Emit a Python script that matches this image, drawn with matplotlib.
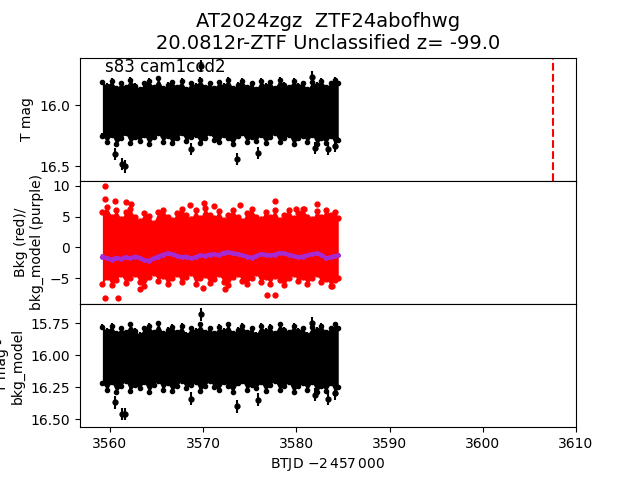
import numpy as np
import matplotlib
matplotlib.use('Agg')
import matplotlib.pyplot as plt

# light curve read off the reference: band edges sampled every ~0.5 d,
# plus the points that stick out of the band

t_env = [3559.2, 3559.7, 3560.2, 3560.7, 3561.2, 3561.7, 3562.2, 3562.7, 3563.2, 3563.7,
         3564.2, 3564.7, 3565.2, 3565.7, 3566.2, 3566.7, 3567.2, 3567.7, 3568.2, 3568.7,
         3569.2, 3569.7, 3570.2, 3570.7, 3571.2, 3571.7, 3572.2, 3572.7, 3573.2, 3573.7,
         3574.2, 3574.7, 3575.2, 3575.7, 3576.2, 3576.7, 3577.2, 3577.7, 3578.2, 3578.7,
         3579.2, 3579.7, 3580.2, 3580.7, 3581.2, 3581.7, 3582.2, 3582.7, 3583.2, 3583.7,
         3584.2, 3584.5]

# T mag band (top panel)
tmag_hi = [15.81, 15.84, 15.80, 15.86, 15.82, 15.85, 15.79, 15.84, 15.87, 15.82,
           15.80, 15.85, 15.78, 15.86, 15.83, 15.81, 15.85, 15.80, 15.87, 15.82,
           15.84, 15.79, 15.85, 15.82, 15.86, 15.81, 15.84, 15.79, 15.86, 15.83,
           15.80, 15.85, 15.82, 15.87, 15.80, 15.84, 15.81, 15.86, 15.79, 15.83,
           15.85, 15.80, 15.84, 15.82, 15.87, 15.81, 15.83, 15.80, 15.85, 15.82,
           15.79, 15.82]
tmag_lo = [16.25, 16.30, 16.24, 16.32, 16.27, 16.23, 16.31, 16.26, 16.29, 16.24,
           16.32, 16.26, 16.23, 16.30, 16.25, 16.31, 16.27, 16.23, 16.29, 16.26,
           16.24, 16.31, 16.27, 16.23, 16.28, 16.30, 16.24, 16.27, 16.32, 16.25,
           16.23, 16.30, 16.26, 16.29, 16.24, 16.31, 16.26, 16.23, 16.30, 16.27,
           16.24, 16.32, 16.27, 16.25, 16.30, 16.24, 16.32, 16.27, 16.31, 16.25,
           16.33, 16.28]

# background band and model (middle panel)
bkg_hi = [5.8, 6.5, 5.0, 6.0, 4.6, 5.7, 6.2, 4.9, 4.2, 5.5, 5.1, 4.0, 5.8, 6.1, 5.0,
          4.4, 5.6, 6.3, 5.2, 4.6, 6.0, 4.7, 6.4, 5.3, 4.8, 5.9, 4.5, 5.2, 6.1, 4.9,
          4.3, 5.6, 6.2, 5.0, 4.6, 5.8, 4.9, 6.0, 4.5, 5.3, 6.1, 4.8, 5.6, 6.3, 5.0,
          4.6, 5.9, 4.9, 6.1, 5.2, 5.7, 4.8]
bkg_lo = [-6.0, -4.8, -6.1, -5.3, -4.4, -5.8, -4.9, -4.3, -5.6, -6.2, -4.8, -4.2, -5.4,
          -4.6, -6.0, -5.0, -4.3, -5.7, -4.8, -4.1, -5.9, -5.0, -4.5, -5.8, -5.1, -4.4,
          -5.6, -6.1, -4.8, -4.3, -5.4, -6.0, -4.9, -4.2, -5.7, -4.8, -5.9, -4.6, -5.3,
          -6.1, -5.0, -4.3, -5.5, -4.8, -6.0, -4.9, -4.4, -5.7, -5.1, -6.2, -5.3, -5.0]
bkg_model = [-1.5, -1.8, -2.0, -1.7, -1.9, -1.6, -1.8, -1.5, -1.7, -2.1, -2.2, -1.8, -1.5,
             -1.2, -1.0, -1.1, -1.4, -1.6, -1.5, -1.8, -1.6, -1.3, -1.4, -1.2, -1.1, -1.3,
             -0.9, -0.8, -1.0, -1.1, -1.3, -1.5, -1.7, -1.4, -1.1, -1.2, -1.3, -1.2, -0.9,
             -1.0, -1.2, -1.4, -1.6, -1.5, -1.3, -1.1, -1.0, -1.2, -1.8, -1.6, -1.4, -1.3]

# T mag - bkg_model band (bottom panel)
corr_hi = [15.78, 15.81, 15.77, 15.83, 15.79, 15.82, 15.76, 15.81, 15.84, 15.79,
           15.77, 15.82, 15.75, 15.83, 15.80, 15.78, 15.82, 15.77, 15.84, 15.79,
           15.81, 15.76, 15.82, 15.79, 15.83, 15.78, 15.81, 15.76, 15.83, 15.80,
           15.77, 15.82, 15.79, 15.84, 15.77, 15.81, 15.78, 15.83, 15.76, 15.80,
           15.82, 15.77, 15.81, 15.79, 15.84, 15.78, 15.80, 15.77, 15.82, 15.79,
           15.76, 15.79]
corr_lo = [16.22, 16.27, 16.21, 16.29, 16.24, 16.20, 16.28, 16.23, 16.26, 16.21,
           16.29, 16.23, 16.20, 16.27, 16.22, 16.28, 16.24, 16.20, 16.26, 16.23,
           16.21, 16.28, 16.24, 16.20, 16.25, 16.27, 16.21, 16.24, 16.29, 16.22,
           16.20, 16.27, 16.23, 16.26, 16.21, 16.28, 16.23, 16.20, 16.27, 16.24,
           16.21, 16.29, 16.24, 16.22, 16.27, 16.21, 16.29, 16.24, 16.28, 16.22,
           16.30, 16.25]

# outlying points
out_t = [3560.55, 3561.35, 3561.65, 3568.7, 3569.8, 3573.6, 3575.9, 3581.7, 3582.0, 3583.4, 3584.1]
out_tmag = [16.40, 16.48, 16.50, 16.36, 15.68, 16.44, 16.39, 15.77, 16.35, 16.36, 16.33]
out_corr = [16.37, 16.46, 16.46, 16.34, 15.68, 16.40, 16.35, 15.75, 16.31, 16.34, 16.30]
out_err = 0.05

bkg_out_t = [3559.5, 3559.5, 3559.5, 3560.6, 3561.7, 3562.3, 3568.6, 3570.1, 3571.2, 3574.0,
             3577.7, 3580.0, 3580.8, 3582.2, 3560.9, 3563.2, 3570.0, 3572.4, 3576.9, 3577.7,
             3583.8]
bkg_out_v = [10.0, 7.8, -8.2, 7.5, 7.3, 7.0, 6.9, 7.2, 6.7, 6.9, 7.5, 6.2, 6.2, 7.1, -8.3,
             -6.7, -6.6, -6.7, -7.8, -7.8, -6.3]

t_peak = 3607.5

fig, axs = plt.subplots(3, 1, sharex=True, figsize=(6.4, 4.8), dpi=100)
plt.subplots_adjust(hspace=0)

# top: T mag
ax = axs[0]
ax.fill_between(t_env, tmag_hi, tmag_lo, color='k', lw=0)
ax.errorbar(t_env, tmag_hi, yerr=0.02, fmt='ko', ms=3, lw=1.5)
ax.errorbar(t_env, tmag_lo, yerr=0.02, fmt='ko', ms=3, lw=1.5)
ax.errorbar(out_t, out_tmag, yerr=out_err, fmt='ko', ms=3.5, lw=1.5)
ax.axvline(t_peak, color='r', ls='--', lw=1.5)
ax.set_ylim(16.617, 15.61)
ax.set_yticks([16.0, 16.5])
ax.set_ylabel('T mag')
ax.text(0.05, 0.995, 's83 cam1ccd2', transform=ax.transAxes, fontsize=12, va='top')
ax.set_title('AT2024zgz  ZTF24abofhwg\n20.0812r-ZTF Unclassified z= -99.0', fontsize=14)

# middle: background
ax = axs[1]
ax.fill_between(t_env, bkg_lo, bkg_hi, color='r', lw=0)
ax.plot(t_env, bkg_hi, 'o', color='r', ms=3.5)
ax.plot(t_env, bkg_lo, 'o', color='r', ms=3.5)
ax.plot(bkg_out_t, bkg_out_v, 'o', color='r', ms=3.5, ls='none')
ax.plot(t_env, bkg_model, '.-', color='#a52ad2', ms=5, lw=3)
ax.set_ylim(-9.2, 10.8)
ax.set_yticks([-5, 0, 5, 10])
ax.set_ylabel('Bkg (red)/\nbkg_model (purple)')

# bottom: corrected
ax = axs[2]
ax.fill_between(t_env, corr_hi, corr_lo, color='k', lw=0)
ax.errorbar(t_env, corr_hi, yerr=0.02, fmt='ko', ms=3, lw=1.5)
ax.errorbar(t_env, corr_lo, yerr=0.02, fmt='ko', ms=3, lw=1.5)
ax.errorbar(out_t, out_corr, yerr=out_err, fmt='ko', ms=3.5, lw=1.5)
ax.set_ylim(16.564, 15.60)
ax.set_yticks([15.75, 16.0, 16.25, 16.5])
ax.set_ylabel('T mag -\nbkg_model')
ax.set_xlim(3556.8, 3610.0)
ax.set_xticks([3560, 3570, 3580, 3590, 3600, 3610])
ax.set_xlabel('BTJD $-2\\,457\\,000$')

plt.savefig('out.png')
